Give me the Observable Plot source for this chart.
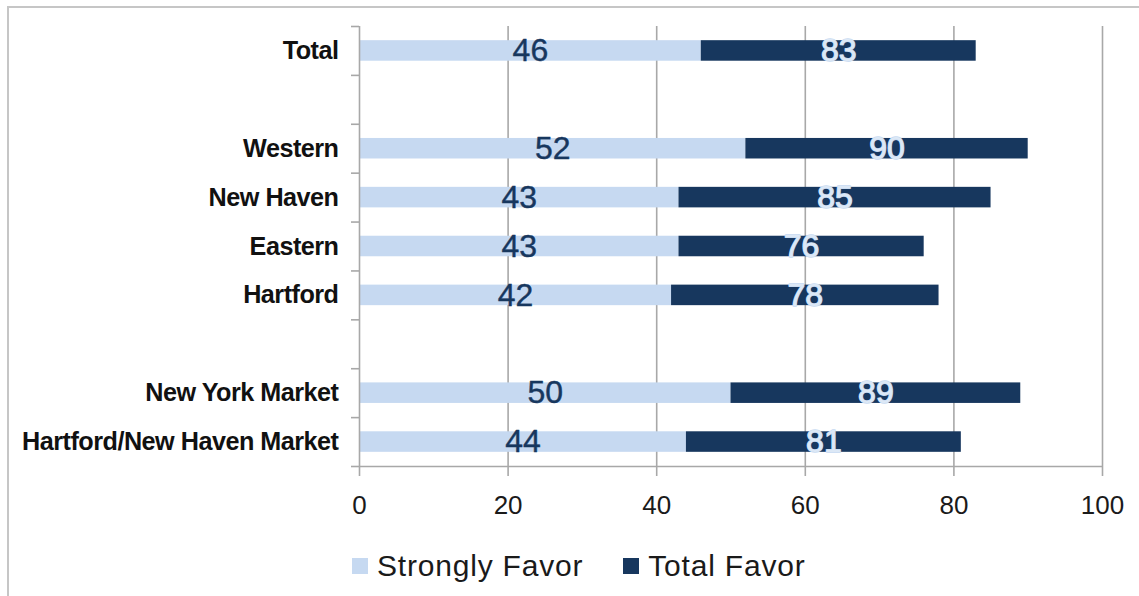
<!DOCTYPE html>
<html>
<head>
<meta charset="utf-8">
<script src="https://cdn.jsdelivr.net/npm/d3@7"></script>
<script src="https://cdn.jsdelivr.net/npm/@observablehq/plot@0.6"></script>
<style>
  html, body { margin: 0; padding: 0; background: #fff; overflow: hidden; }
  body { width: 1139px; height: 596px; position: relative; font-family: "Liberation Sans", Arial, sans-serif; }
  #border { position: absolute; left: 7px; top: 6px; width: 1200px; height: 700px; border-left: 2px solid #c6c6c6; border-top: 2px solid #c6c6c6; }
  #chart { position: absolute; left: 0; top: 0; }
  #legend { position: absolute; left: 352px; top: 549px; display: flex; align-items: center; font-size: 30px; color: #1a1a1a; letter-spacing: 0.8px; }
  .sw { width: 16px; height: 16px; display: inline-block; margin-right: 9px; }
  .item { display: flex; align-items: center; margin-right: 40px; }
</style>
</head>
<body>
<div id="border"></div>
<div id="chart"></div>
<div id="legend"></div>
<script>
const categories = ["Total", "", "Western", "New Haven", "Eastern", "Hartford", "", "New York Market", "Hartford/New Haven Market"];
const stronglyFavor = [46, null, 52, 43, 43, 42, null, 50, 44];
const totalFavor = [83, null, 90, 85, 76, 78, null, 89, 81];
const xTicks = [0, 20, 40, 60, 80, 100];
const seriesNames = ["Strongly Favor", "Total Favor"];
const colors = ["#c6d9f1", "#17375e"];

const rows = categories.map((c, i) => ({i, cat: c, strong: stronglyFavor[i], total: totalFavor[i]}))
  .filter(d => d.strong != null);
const n = categories.length;
const half = 0.21;
const gray = "#a8a8a8";

const chart = Plot.plot({
  width: 1139,
  height: 530,
  marginLeft: 359,
  marginRight: 37,
  marginTop: 26,
  marginBottom: 64,
  style: { fontFamily: "'Liberation Sans', Arial, sans-serif", background: "transparent", overflow: "visible" },
  x: { domain: [0, 100] },
  y: { domain: [-0.5, n - 0.5], reverse: true },
  marks: [
    Plot.gridX({ ticks: xTicks.slice(1), stroke: gray, strokeOpacity: 1, strokeWidth: 1.6 }),
    Plot.rectX(rows, { x1: 0, x2: "strong", y1: d => d.i - half, y2: d => d.i + half, fill: colors[0] }),
    Plot.rectX(rows, { x1: "strong", x2: "total", y1: d => d.i - half, y2: d => d.i + half, fill: colors[1] }),
    Plot.text(rows, { x: d => d.strong / 2, y: "i", text: "strong", fill: colors[1], stroke: colors[1], strokeWidth: 0.4, fontSize: 32 }),
    Plot.text(rows, { x: d => (d.strong + d.total) / 2, y: "i", text: "total", fill: "#dce8f6", stroke: "#c6d9f1", strokeWidth: 1.4, fontSize: 32 }),
    Plot.ruleX([0], { stroke: gray, strokeWidth: 1.6 }),
    Plot.ruleY([n - 0.5], { stroke: gray, strokeWidth: 1.6 }),
    Plot.axisX({ ticks: xTicks, tickSize: 10, tickPadding: 19, fontSize: 26, fill: "#1a1a1a", stroke: gray, strokeWidth: 1.6, label: null }),
    Plot.axisY(d3.range(-0.5, n, 1), { tickSize: 8, tickFormat: () => "", stroke: gray, strokeWidth: 1.6, label: null }),
    Plot.axisY(rows.map(d => d.i), { tickSize: 0, tickPadding: 21, tickFormat: i => categories[i], fontSize: 25.2, fontWeight: "bold", fill: "#111", label: null })
  ]
});
d3.select(chart).selectAll("[aria-label='y-axis tick label'] text").style("letter-spacing", "-0.5px");
document.getElementById("chart").appendChild(chart);

const legend = document.getElementById("legend");
seriesNames.forEach((s, k) => {
  const it = document.createElement("span");
  it.className = "item";
  const sw = document.createElement("span");
  sw.className = "sw";
  sw.style.background = colors[k];
  it.appendChild(sw);
  it.appendChild(document.createTextNode(s));
  legend.appendChild(it);
});
</script>
</body>
</html>
